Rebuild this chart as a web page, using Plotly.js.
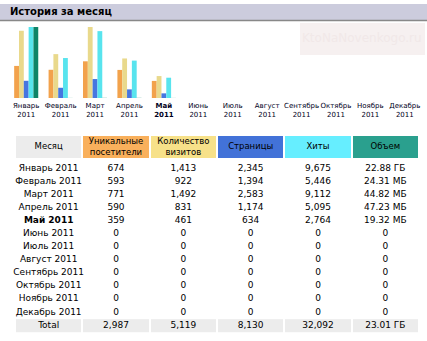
<!DOCTYPE html>
<html><head><meta charset="utf-8">
<script src="https://cdn.plot.ly/plotly-3.0.1.min.js"></script>
<style>html,body{margin:0;padding:0;background:#fff}#c{width:427px;height:341px}</style>
</head><body><div id="c"></div>
<script>
const months = ["Январь","Февраль","Март","Апрель","Май","Июнь","Июль","Август","Сентябрь","Октябрь","Ноябрь","Декабрь"];
const year = "2011";
const currentMonth = "Май";
const uniq   = [674, 593, 771, 590, 359, 0, 0, 0, 0, 0, 0, 0];
const visits = [1413, 922, 1492, 831, 461, 0, 0, 0, 0, 0, 0, 0];
const pages  = [2345, 1394, 2583, 1174, 634, 0, 0, 0, 0, 0, 0, 0];
const hits   = [9675, 5446, 9112, 5095, 2764, 0, 0, 0, 0, 0, 0, 0];
const bandwidthMB = [23429, 24.31, 44.82, 47.23, 19.32, 0, 0, 0, 0, 0, 0, 0];
const headers = ["Месяц","Уникальные<br>посетители","Количество<br>визитов","Страницы","Хиты","Объем"];
const totalLabel = "Total";

const W = 427, H = 341;
const px = v => v / W, py = v => 1 - v / H;
const fmt = n => n.toLocaleString('en-US');
const fmtBW = v => v === 0 ? "0" : (v >= 1024 ? (v/1024).toFixed(2) + " ГБ" : v.toFixed(2) + " МБ");
const sum = a => a.reduce((s, v) => s + v, 0);
const bold = s => "<b>" + s + "</b>";
const FONT = "DejaVu Sans";

const cats = months.map(m => m + " " + year);
const tickText = months.map(m => m === currentMonth ? bold(m) + "<br>" + bold(year) : m + "<br>" + year);

const maxV = Math.max(...visits), maxH = Math.max(...hits), maxB = Math.max(...bandwidthMB);
const barPx = 72;
const barColors = ["#F2A24C", "#E9D98C", "#4676E0", "#58E4EE", "#0E8468"];
const headColors = ["#ECECEC", "#F9B05C", "#F7E189", "#4272D8", "#66EEFF", "#2AA08E"];

function bar(y, color, ax, mx, g) {
  return {type: "bar", x: cats, y: y, xaxis: "x", yaxis: ax, base: -mx / barPx,
    alignmentgroup: "all", offsetgroup: g,
    marker: {color: color, line: {width: 0}}, hoverinfo: "skip", showlegend: false};
}
const traces = [
  bar(uniq, barColors[0], "y", maxV, "1"),
  bar(visits, barColors[1], "y", maxV, "2"),
  bar(pages, barColors[2], "y2", maxH, "3"),
  bar(hits, barColors[3], "y2", maxH, "4"),
  bar(bandwidthMB, barColors[4], "y3", maxB, "5")
];

// ---- table: header row and body built on their own category axes ----
const rowLabels = cats.concat([totalLabel]);
const columns = [
  cats.map(c => c.startsWith(currentMonth + " ") ? bold(c) : c).concat([totalLabel]),
  ...[uniq, visits, pages, hits].map(a => a.map(fmt).concat([fmt(sum(a))])),
  bandwidthMB.map(fmtBW).concat([fmtBW(sum(bandwidthMB))])
];

traces.push({type: "heatmap", x: headers, y: ["head"], z: [headers.map((h, i) => i)],
  xaxis: "x2", yaxis: "y4", zmin: 0, zmax: headers.length - 1, showscale: false, xgap: 2, ygap: 0,
  colorscale: headColors.map((c, i) => [i / (headColors.length - 1), c]), hoverinfo: "skip"});
traces.push({type: "scatter", mode: "text", x: headers, y: headers.map(() => "head"), text: headers,
  xaxis: "x2", yaxis: "y4", textposition: "middle center", cliponaxis: false,
  textfont: {family: FONT, size: 8.5, color: "#000"}, hoverinfo: "skip", showlegend: false});

traces.push({type: "heatmap", x: headers, y: rowLabels,
  z: rowLabels.map(r => headers.map(() => r === totalLabel ? 1 : 0)),
  xaxis: "x2", yaxis: "y5", zmin: 0, zmax: 1, showscale: false, xgap: 2, ygap: 0,
  colorscale: [[0, "#FFFFFF"], [1, "#ECECEC"]], hoverinfo: "skip"});
columns.forEach((col, j) => traces.push({type: "scatter", mode: "text",
  x: rowLabels.map(() => headers[j]), y: rowLabels, text: col,
  xaxis: "x2", yaxis: "y5", textposition: "middle center", cliponaxis: false,
  textfont: {family: FONT, size: 9, color: "#000"}, hoverinfo: "skip", showlegend: false}));

const yDom = [py(98), py(26)];
const yax = mx => ({domain: yDom, range: [-mx / barPx, mx], visible: false, fixedrange: true});
const hidden = {visible: false, fixedrange: true, showgrid: false, zeroline: false};
const layout = {
  width: W, height: H, autosize: false,
  margin: {l: 0, r: 0, t: 0, b: 0},
  paper_bgcolor: "#FFFFFF", plot_bgcolor: "rgba(0,0,0,0)",
  barmode: "group", bargap: 0.3, bargroupgap: 0, showlegend: false,
  font: {family: FONT, color: "#000"},
  xaxis: {domain: [px(9), px(422)], anchor: "y", type: "category", showgrid: false, zeroline: false, showline: false,
    ticks: "", tickvals: cats, ticktext: tickText, tickangle: 0, ticklabelstandoff: 2, fixedrange: true,
    tickfont: {family: FONT, size: 7, color: "#000022"}},
  yaxis: yax(maxV),
  yaxis2: Object.assign(yax(maxH), {overlaying: "y"}),
  yaxis3: Object.assign(yax(maxB), {overlaying: "y"}),
  xaxis2: Object.assign({domain: [px(15), px(419)], anchor: "y5", type: "category"}, hidden),
  yaxis4: Object.assign({domain: [py(158), py(136)], anchor: "x2", type: "category"}, hidden),
  yaxis5: Object.assign({domain: [py(334), py(160)], anchor: "x2", type: "category", autorange: "reversed"}, hidden),
  shapes: [
    {type: "rect", xref: "paper", yref: "paper", x0: 0, x1: 1, y0: py(20), y1: py(4), fillcolor: "#CCCCDD", line: {width: 0}, layer: "below"},
    {type: "line", xref: "paper", yref: "paper", x0: 0, x1: 1, y0: py(20.5), y1: py(20.5), line: {color: "#888888", width: 1.5}},
    {type: "rect", xref: "paper", yref: "paper", x0: px(300), x1: px(425), y0: py(55), y1: py(23), fillcolor: "#F6F0F0", line: {width: 0}, layer: "below"}
  ],
  annotations: [
    {xref: "paper", yref: "paper", x: px(8), y: py(12), xanchor: "left", yanchor: "middle", showarrow: false,
      text: "<b>История за месяц</b>", font: {family: FONT, size: 10, color: "#000"}},
    {xref: "paper", yref: "paper", x: px(362), y: py(38), xanchor: "center", yanchor: "middle", showarrow: false,
      text: "KtoNaNovenkogo.ru", font: {family: FONT, size: 12, color: "#F1E8E8"}}
  ]
};
Plotly.newPlot("c", traces, layout, {staticPlot: true, displayModeBar: false});
</script></body></html>
